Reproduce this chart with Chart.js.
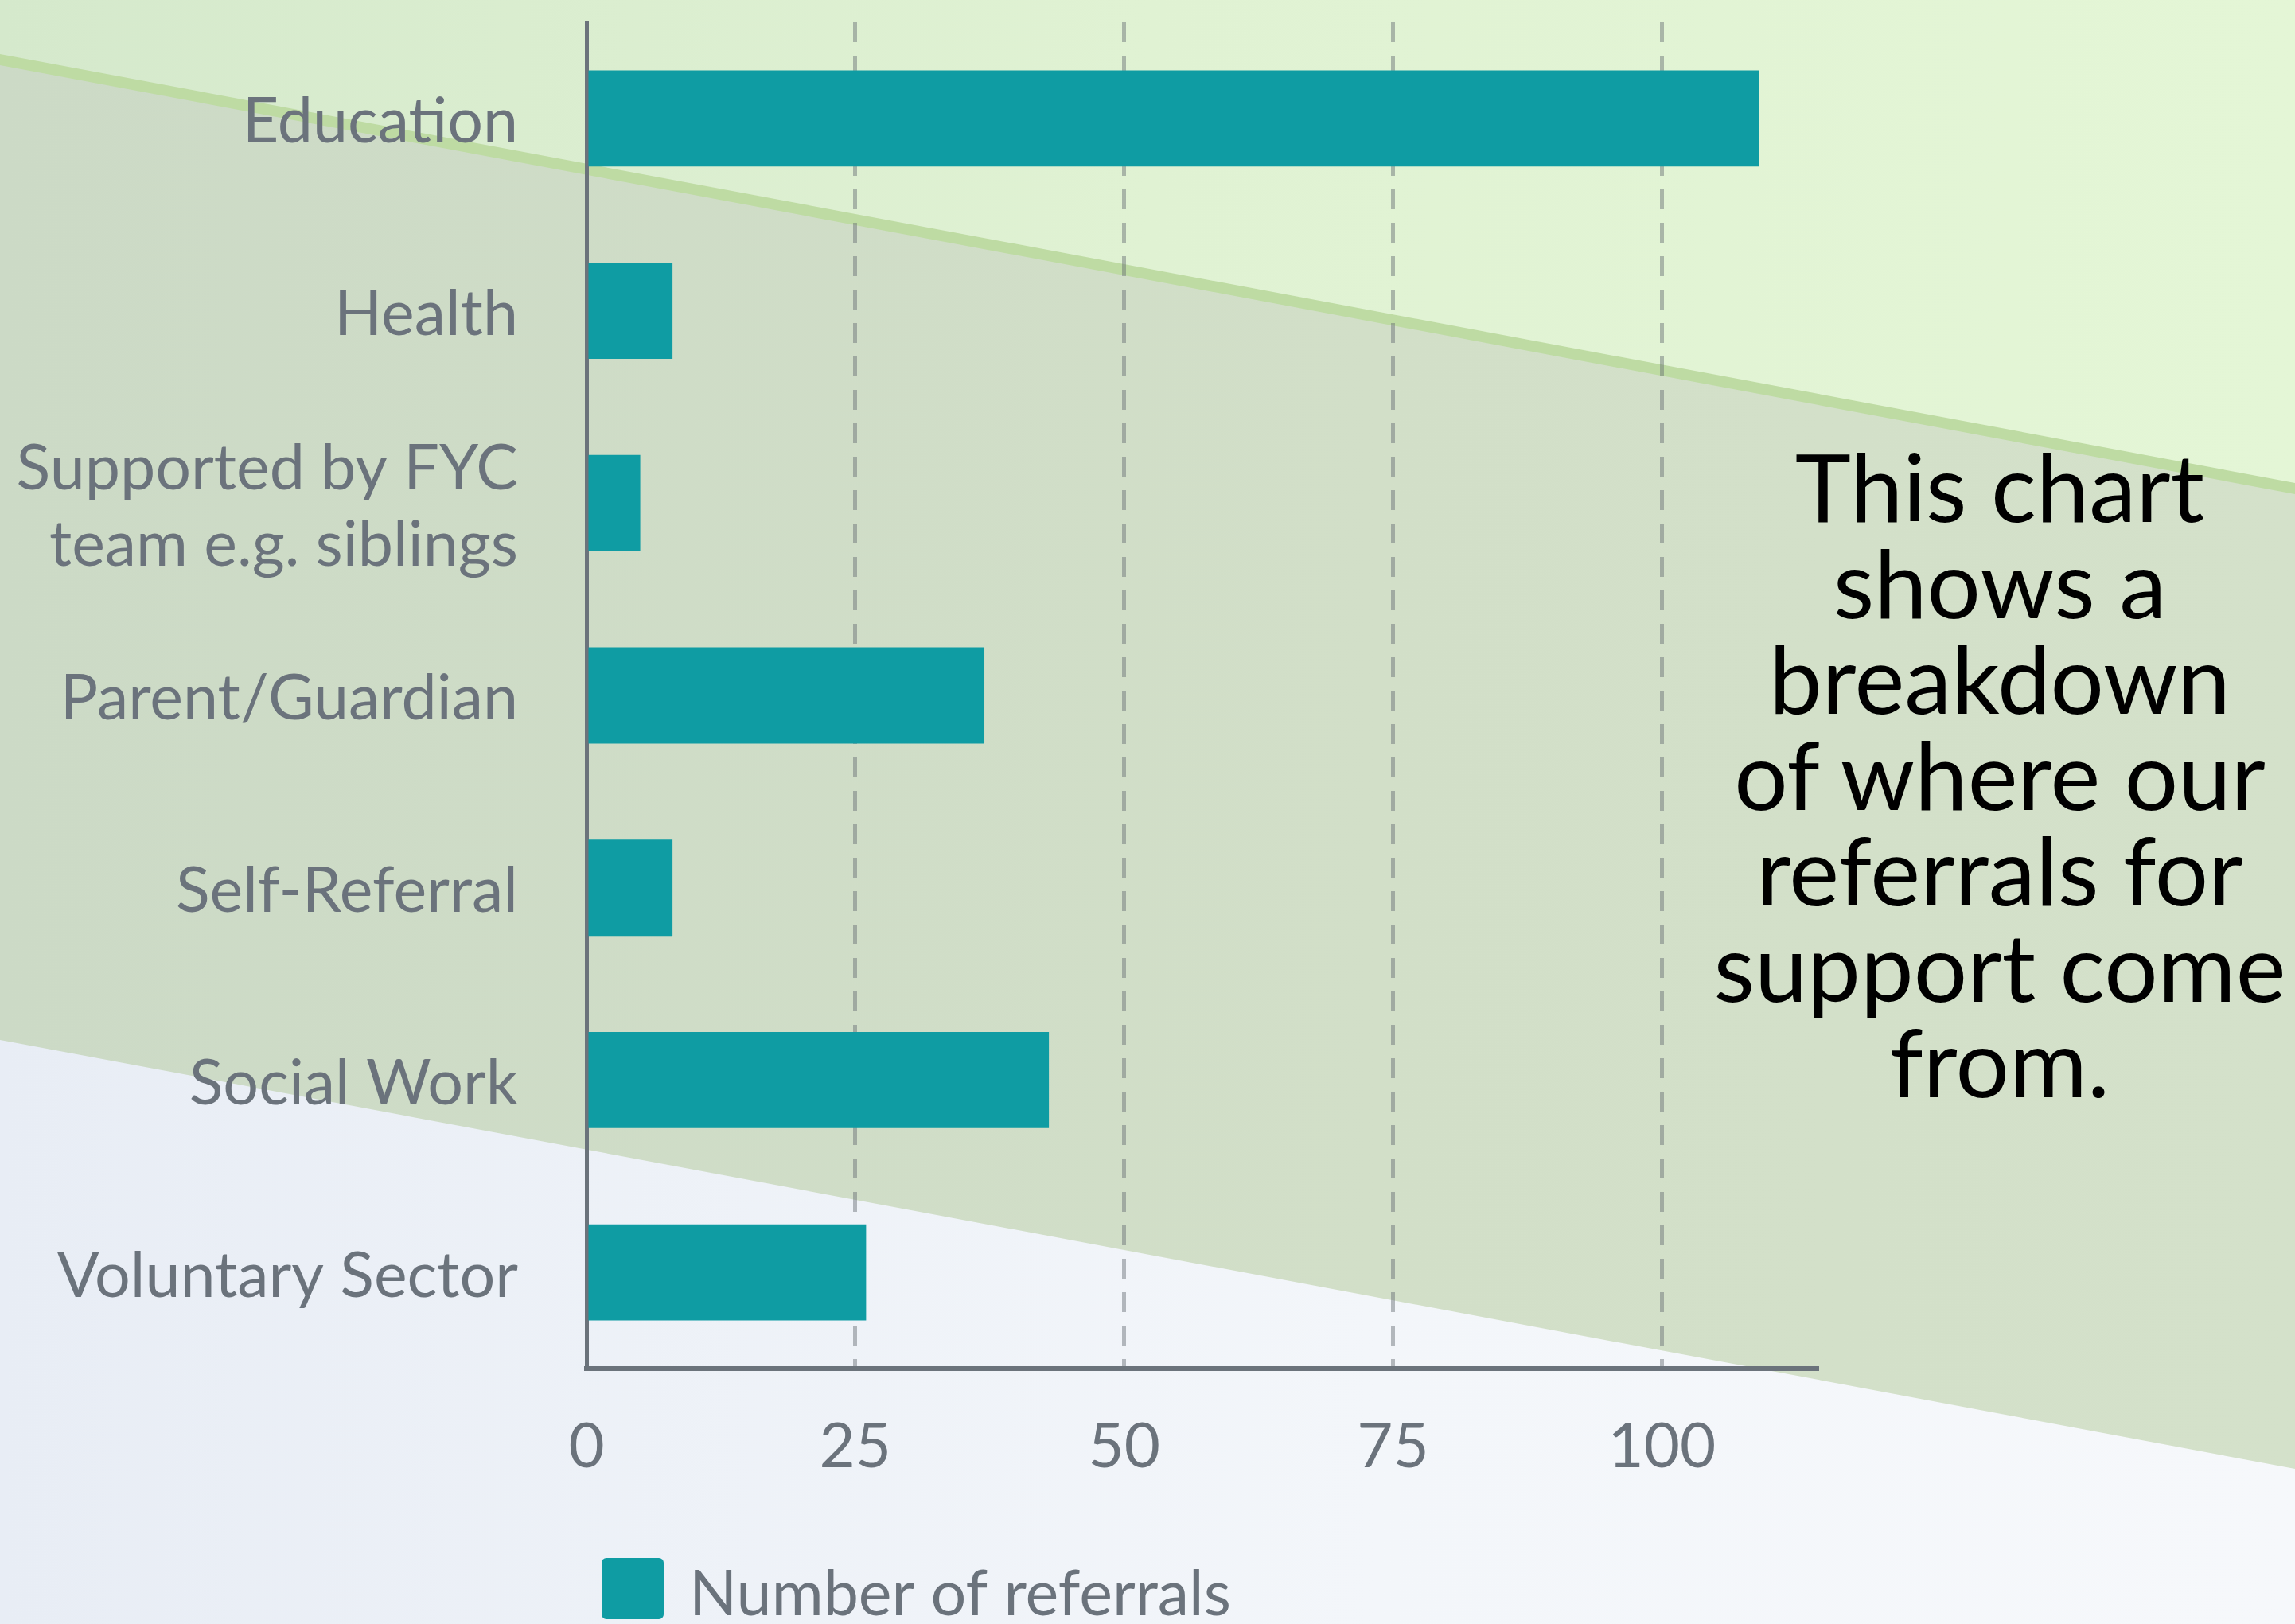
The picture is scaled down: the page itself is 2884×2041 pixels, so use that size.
<!DOCTYPE html>
<html>
<head>
<meta charset="utf-8">
<script src="https://cdn.jsdelivr.net/npm/chart.js@4"></script>
<style>
  html, body { margin: 0; padding: 0; width: 2884px; height: 2041px; overflow: hidden; }
  body {
    position: relative;
    background: linear-gradient(90deg, #e8edf5 0%, #f3f6fa 60%, #f6f8fb 100%);
    font-family: Lato, sans-serif;
  }
  .bg { position: absolute; left: 0; top: 0; width: 2884px; height: 2041px; }
  #band {
    background: linear-gradient(90deg, #ccdac6 0%, #d2dfc8 60%, #d4e1ca 100%);
    clip-path: polygon(0 75px, 2884px 614px, 2884px 1846px, 0 1307px);
  }
  #top {
    background: linear-gradient(90deg, #d5e9cc 0%, #e0f2d3 50%, #e4f6d6 100%);
    clip-path: polygon(0 0, 2884px 0, 2884px 614px, 0 75px);
  }
  #edge {
    background: #bedba3;
    clip-path: polygon(0 68px, 2884px 607px, 2884px 621px, 0 82px);
  }
  #wrap { position: absolute; left: 0; top: 0; width: 2884px; height: 2041px; }
  #note {
    position: absolute;
    left: 2113px;
    top: 550px;
    width: 800px;
    text-align: center;
    white-space: nowrap;
    font-family: Lato, sans-serif;
    font-size: 119px;
    line-height: 120.5px;
    color: #000;
  }
</style>
</head>
<body>
<div class="bg" id="band"></div>
<div class="bg" id="top"></div>
<div class="bg" id="edge"></div>
<div id="wrap"><canvas id="referralChart" width="2884" height="2041"></canvas></div>
<div id="note">This chart<br>shows a<br>breakdown<br>of where our<br>referrals for<br>support come<br>from.</div>

<script>
// dados do gráfico
const categories = [
    'Education',
    'Health',
    ['Supported by FYC', 'team e.g. siblings'],
    'Parent/Guardian',
    'Self-Referral',
    'Social Work',
    'Voluntary Sector'
];
const referrals = [109, 8, 5, 37, 8, 43, 26];
const seriesLabel = 'Number of referrals';
const xTicks = [0, 25, 50, 75, 100];
const xMax = 114.4;

const barColor = '#0f9ca3';
const axisColor = '#6b737b';
const textColor = '#6b737c';

// legenda desenhada junto ao eixo (alinhada com a área do gráfico)
const legendPlugin = {
    id: 'leftLegend',
    afterDraw(chart) {
        const ctx = chart.ctx;
        const ds = chart.data.datasets[0];
        const x = chart.chartArea.left + 19;
        const y = 1958;
        ctx.save();
        ctx.fillStyle = ds.backgroundColor;
        ctx.beginPath();
        ctx.roundRect(x, y, 78, 77, 6);
        ctx.fill();
        ctx.fillStyle = textColor;
        ctx.font = '79px Lato';
        ctx.textBaseline = 'alphabetic';
        ctx.textAlign = 'left';
        ctx.fillText(ds.label, x + 110, 2030);
        ctx.restore();
    }
};

function createChart() {
    const ctx = document.getElementById('referralChart').getContext('2d');
    new Chart(ctx, {
        type: 'bar',
        data: {
            labels: categories,
            datasets: [{
                label: seriesLabel,
                data: referrals,
                backgroundColor: barColor,
                borderWidth: 0,
                barPercentage: 0.5,
                categoryPercentage: 1
            }]
        },
        options: {
            indexAxis: 'y',
            responsive: false,
            animation: false,
            layout: { padding: { top: 28, right: 601, bottom: 0, left: 0 } },
            scales: {
                x: {
                    min: 0,
                    max: xMax,
                    afterBuildTicks: axis => {
                        axis.ticks = xTicks.map(v => ({ value: v }));
                    },
                    afterFit: axis => {
                        axis.height = 321;
                        axis.paddingLeft = 0;
                        axis.paddingRight = 0;
                    },
                    grid: {
                        color: 'rgba(100, 106, 112, 0.45)',
                        lineWidth: 5,
                        drawTicks: false
                    },
                    border: { color: axisColor, width: 6, dash: [25, 17] },
                    ticks: {
                        color: textColor,
                        font: { family: 'Lato', size: 78 },
                        padding: 52
                    }
                },
                y: {
                    afterFit: axis => {
                        axis.width = 737;
                        axis.paddingTop = 0;
                        axis.paddingBottom = 0;
                    },
                    grid: { display: false, drawTicks: false },
                    border: { color: axisColor, width: 5 },
                    ticks: {
                        color: textColor,
                        font: { family: 'Lato', size: 79, lineHeight: 1.215 },
                        padding: 86,
                        labelOffset: 5
                    }
                }
            },
            plugins: {
                legend: { display: false },
                tooltip: { enabled: false }
            }
        },
        plugins: [legendPlugin]
    });
}

document.fonts.load('79px Lato').then(createChart, createChart);
</script>
</body>
</html>
